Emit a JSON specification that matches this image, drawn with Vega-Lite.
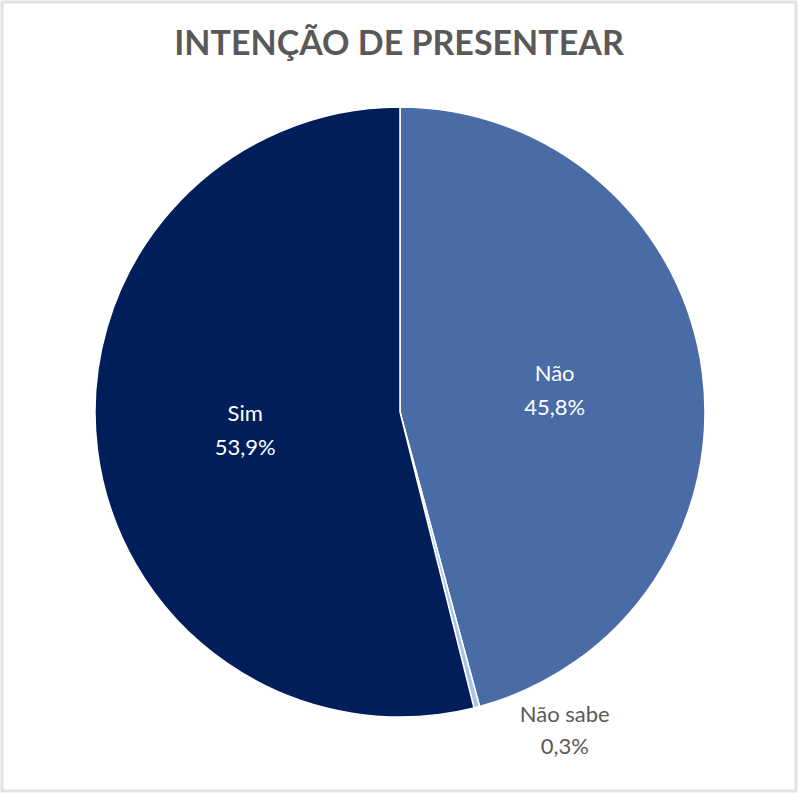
{
  "$schema": "https://vega.github.io/schema/vega-lite/v6.json",
  "autosize": {"type": "fit", "contains": "padding"},
  "width": 805,
  "height": 800,
  "padding": {"left": 2, "top": 2, "right": 9, "bottom": 9},
  "background": "white",
  "view": {"stroke": "#e2e2e2", "strokeWidth": 3},
  "config": {
    "view": {"stroke": "#e2e2e2", "strokeWidth": 3},
    "font": "Lato"
  },
  "title": {
    "text": "INTENÇÃO DE PRESENTEAR",
    "orient": "top",
    "anchor": "middle",
    "offset": -55,
    "dy": 32,
    "baseline": "alphabetic",
    "font": "Lato",
    "fontSize": 34,
    "fontWeight": "bold",
    "color": "#595959"
  },
  "data": {
    "values": [
      {"categoria": "Não", "valor": 45.8, "ordem": 1, "rotulo": "Não\n45,8%"},
      {"categoria": "Não sabe", "valor": 0.3, "ordem": 2, "rotulo": "Não sabe\n0,3%"},
      {"categoria": "Sim", "valor": 53.9, "ordem": 3, "rotulo": "Sim\n53,9%"}
    ]
  },
  "encoding": {
    "theta": {"field": "valor", "type": "quantitative", "stack": true},
    "order": {"field": "ordem", "type": "quantitative"}
  },
  "layer": [
    {
      "mark": {"type": "arc", "outerRadius": 305, "xOffset": 1, "yOffset": 15.5, "stroke": "white", "strokeWidth": 1.5},
      "encoding": {
        "color": {
          "field": "categoria",
          "type": "nominal",
          "scale": {"domain": ["Não", "Não sabe", "Sim"], "range": ["#4a6ca6", "#a9c4e8", "#001e5a"]},
          "legend": null
        }
      }
    },
    {
      "mark": {"type": "text", "radius": 156, "xOffset": 1, "yOffset": 15.5, "dy": -17, "fontSize": 22, "lineBreak": "\n", "lineHeight": 34, "color": "white", "align": "center", "baseline": "middle"},
      "encoding": {
        "text": {"condition": {"test": "datum.categoria !== 'Não sabe'", "field": "rotulo"}, "value": ""}
      }
    },
    {
      "mark": {"type": "text", "radius": 305, "xOffset": 1, "yOffset": 15.5, "dx": 88, "dy": 8, "fontSize": 22, "lineBreak": "\n", "lineHeight": 32, "color": "#595959", "align": "center", "baseline": "middle"},
      "encoding": {
        "text": {"condition": {"test": "datum.categoria === 'Não sabe'", "field": "rotulo"}, "value": ""}
      }
    }
  ]
}
